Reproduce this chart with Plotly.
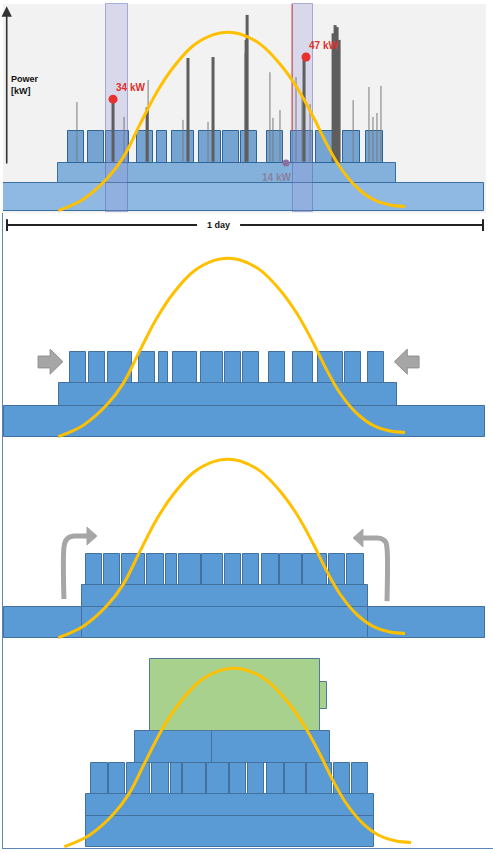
import plotly.graph_objects as go
from plotly.subplots import make_subplots

# ------------------------------------------------------------------ data
# time axis: hours of one day, power axis: kW
solar_h = [2.71, 3.96, 5.12, 5.95, 6.79, 7.62, 8.45, 9.45, 10.45, 11.11, 11.78,
           12.77, 13.77, 14.61, 15.44, 16.10, 16.77, 17.60, 18.43, 19.26, 20.01]
solar_kw = [0.1, 3.6, 9.7, 16.3, 26.4, 36.1, 43.7, 50.3, 53.6, 54.3, 53.8,
            50.8, 44.7, 37.6, 28.5, 20.4, 13.3, 7.2, 3.5, 1.8, 1.4]
solar_shift_p4 = 0.3

# panel 1: measured day
p1_base = dict(start=[-0.05], end=[23.95], lo=0.0, hi=8.5)
p1_mid = dict(start=[2.69], end=[19.56], lo=8.5, hi=14.6)
p1_top = dict(start=[3.21, 4.21, 5.09, 6.62, 7.63, 8.38, 9.73, 10.93, 11.81, 13.11, 14.34, 15.57, 16.93, 18.08],
              end=[4.01, 5.01, 6.25, 7.45, 8.13, 9.50, 10.84, 11.74, 12.62, 13.92, 15.40, 16.78, 17.75, 18.90],
              lo=14.6, hi=24.3)
spike_base = 15.0
thin_spike_h = [3.64, 5.99, 7.19, 8.93, 10.18, 12.03, 13.27, 13.42, 13.77, 14.57, 14.87, 15.27, 17.42, 18.21, 18.41, 18.61, 18.81]
thin_spike_kw = [33.1, 28.6, 39.8, 27.7, 27.1, 48.0, 42.2, 28.3, 30.7, 40.7, 35.9, 32.5, 33.7, 37.7, 28.6, 29.8, 38.0]
heavy_spike_h = [5.44, 7.14, 9.18, 10.43, 12.08, 12.13, 14.97, 16.42, 16.52, 16.62, 16.72]
heavy_spike_kw = [34.0, 31.5, 46.5, 46.8, 52.0, 59.6, 46.8, 54.0, 56.5, 55.9, 52.0]
band_start = [5.09, 14.42]
band_end = [6.19, 15.42]
band_lo, band_hi = -0.3, 62.9
peak_line_h = 14.37
peak_h = [5.44, 15.07]
peak_kw = [34.0, 46.8]
peak_labels = ["34 kW", "47 kW"]
min_h, min_kw, min_label = 14.07, 14.6, "14 kW"

# panel 2: shifting blocks together
p2_base = dict(start=[0.0], end=[24.0], lo=0.0, hi=9.4)
p2_mid = dict(start=[2.74], end=[19.61], lo=9.4, hi=16.4)
p2_top = dict(start=[3.31, 4.26, 5.21, 6.75, 7.75, 8.45, 9.81, 11.04, 11.94, 13.21, 14.44, 15.69, 17.03, 18.18],
              end=[4.11, 5.06, 6.37, 7.55, 8.20, 9.61, 10.94, 11.84, 12.74, 14.01, 15.43, 16.90, 17.83, 18.98],
              lo=16.4, hi=25.8)

# panel 3: stacking
p3_base = dict(start=[0.0, 18.16], end=[3.89, 24.0], lo=0.0, hi=9.4)
p3_core_low = dict(start=[3.89], end=[18.16], lo=0.0, hi=9.4)
p3_core_mid = dict(start=[3.89], end=[18.16], lo=9.4, hi=16.1)
p3_top = dict(start=[4.11, 4.99, 5.90, 7.15, 8.08, 8.72, 9.88, 11.04, 11.94, 12.86, 13.79, 14.90, 16.22, 17.13],
              end=[4.89, 5.80, 7.05, 7.97, 8.62, 9.85, 10.94, 11.84, 12.74, 13.71, 14.85, 16.12, 17.03, 17.95],
              lo=16.1, hi=25.5)

# panel 4: with storage (battery)
p4_low = dict(start=[4.09], end=[18.45], lo=0.0, hi=9.4)
p4_mid = dict(start=[4.09], end=[18.45], lo=9.4, hi=16.1)
p4_top = dict(start=[4.36, 5.26, 6.14, 7.39, 8.33, 8.93, 10.13, 11.28, 12.18, 13.11, 14.02, 15.12, 16.47, 17.37],
              end=[5.17, 6.05, 7.30, 8.22, 8.87, 10.10, 11.21, 12.08, 12.99, 13.96, 15.05, 16.35, 17.28, 18.18],
              lo=16.1, hi=25.5)
p4_second = dict(start=[6.54, 10.38], end=[10.38, 16.27], lo=25.5, hi=35.3)
p4_battery = dict(start=[7.29], end=[15.77], lo=35.3, hi=57.1)
p4_nub = dict(start=[15.77], end=[16.12], lo=41.9, hi=50.2)

# ------------------------------------------------------------------ layout helpers
W, H = 493, 853
PX_PER_H = 481 / 24.0
PX_PER_KW = 3.29
X0_PX = 4
panels = [(0, 213, 211), (213, 440, 437), (440, 645, 638), (645, 848, 847)]

BLUE = "#5b9bd5"
BLUE_LINE = "#41719c"
GOLD = "#ffc000"
GREY = "#a6a6a6"
FONT = "Liberation Sans, Arial, sans-serif"

fig = make_subplots(rows=4, cols=1)
for i, (top, bot, zero) in enumerate(panels, start=1):
    fig.update_yaxes(domain=[1 - bot / H, 1 - top / H],
                     range=[(zero - bot) / PX_PER_KW, (zero - top) / PX_PER_KW],
                     showgrid=False, zeroline=False, showticklabels=False, ticks="",
                     showline=(i > 1), linecolor="#5b87b6", linewidth=1, fixedrange=True,
                     row=i, col=1)
    fig.update_xaxes(domain=[3 / W, 1],
                     range=[(3 - X0_PX) / PX_PER_H, (W - X0_PX) / PX_PER_H],
                     showgrid=False, zeroline=False, showticklabels=False, ticks="",
                     showline=(i == 4), linecolor="#5b87b6", linewidth=1, fixedrange=True,
                     row=i, col=1)


def blocks(spec, row, fill=BLUE, line=BLUE_LINE, lw=1):
    s, e = spec["start"], spec["end"]
    fig.add_trace(go.Bar(
        x=[(a + b) / 2 for a, b in zip(s, e)],
        width=[b - a for a, b in zip(s, e)],
        y=[spec["hi"] - spec["lo"]] * len(s),
        base=[spec["lo"]] * len(s),
        marker=dict(color=fill, line=dict(color=line, width=lw)),
        hoverinfo="skip", showlegend=False), row=row, col=1)


def solar(row, shift=0.0):
    fig.add_trace(go.Scatter(x=[h + shift for h in solar_h], y=solar_kw, mode="lines",
                             line=dict(color=GOLD, width=3, shape="spline", smoothing=1.0),
                             hoverinfo="skip", showlegend=False), row=row, col=1)


def seg_xy(xs, lo, his):
    X, Y = [], []
    for x, t in zip(xs, his):
        X += [x, x, None]
        Y += [lo, t, None]
    return X, Y


# ------------------------------------------------------------------ panel 1
fig.add_shape(type="rect", xref="x", yref="y", x0=-0.3, x1=24.05, y0=-1, y1=62.9,
              fillcolor="#f2f2f2", line=dict(width=0), layer="below")
X, Y = seg_xy(thin_spike_h, spike_base, thin_spike_kw)
fig.add_trace(go.Scatter(x=X, y=Y, mode="lines", line=dict(color="#7a7a7a", width=1),
                         hoverinfo="skip", showlegend=False), row=1, col=1)
X, Y = seg_xy(heavy_spike_h, spike_base, heavy_spike_kw)
fig.add_trace(go.Scatter(x=X, y=Y, mode="lines", line=dict(color="#5e5e5e", width=3),
                         hoverinfo="skip", showlegend=False), row=1, col=1)
blocks(p1_base, 1, fill="rgba(110,165,220,0.75)", line="#3b6f9e")
blocks(p1_mid, 1, fill="rgba(95,155,212,0.75)", line="#3b6f9e")
blocks(p1_top, 1, fill="rgba(75,138,200,0.75)", line="#2f6496")
blocks(dict(start=band_start, end=band_end, lo=band_lo, hi=band_hi), 1,
       fill="rgba(150,150,215,0.28)", line="rgba(80,95,175,0.45)")
fig.add_trace(go.Scatter(x=[peak_line_h, peak_line_h], y=[p1_top["hi"], band_hi], mode="lines",
                         line=dict(color="#e0403a", width=1), hoverinfo="skip", showlegend=False),
              row=1, col=1)
fig.add_trace(go.Scatter(x=peak_h, y=peak_kw, mode="markers",
                         marker=dict(color="#e8312f", size=9), hoverinfo="skip", showlegend=False),
              row=1, col=1)
fig.add_trace(go.Scatter(x=[min_h], y=[min_kw], mode="markers",
                         marker=dict(color="#8c6f9c", size=7), hoverinfo="skip", showlegend=False),
              row=1, col=1)
solar(1)
for h, k, t in zip(peak_h, peak_kw, peak_labels):
    fig.add_annotation(x=h + 0.05, y=k + 3.5, xref="x", yref="y", text=t, showarrow=False,
                       xanchor="left", font=dict(family=FONT, size=10, color="#e0302c", weight="bold"))
fig.add_annotation(x=min_h - 0.45, y=min_kw - 4.3, xref="x", yref="y", text=min_label, showarrow=False,
                   font=dict(family=FONT, size=10, color="#8a80a2", weight="bold"))
fig.add_annotation(x=0.25, y=38.3, xref="x", yref="y", text="Power<br>[kW]", showarrow=False,
                   xanchor="left", align="left",
                   font=dict(family=FONT, size=9, color="#111111", weight="bold"))
fig.add_annotation(x=0.135, y=62.2, ax=0.135, ay=14.0, xref="x", yref="y", axref="x", ayref="y",
                   text="", showarrow=True, arrowhead=2, arrowsize=1.3, arrowwidth=1.6,
                   arrowcolor="#333333")

# ------------------------------------------------------------------ panel 2
fig.add_trace(go.Scatter(x=[0.15, 9.63, None, 11.78, 23.9, None, 0.15, 0.15, None, 23.9, 23.9],
                         y=[64.4, 64.4, None, 64.4, 64.4, None, 62.6, 66.2, None, 62.6, 66.2],
                         mode="lines", line=dict(color="#222222", width=2),
                         hoverinfo="skip", showlegend=False), row=2, col=1)
fig.add_annotation(x=10.68, y=64.4, xref="x2", yref="y2", text="1 day", showarrow=False,
                   font=dict(family=FONT, size=9, color="#111111", weight="bold"))
blocks(p2_base, 2)
blocks(p2_mid, 2)
blocks(p2_top, 2)
for px, py in [([1.70, 2.30, 2.30, 2.94, 2.30, 2.30, 1.70, 1.70],
                [24.6, 24.6, 26.7, 22.9, 19.1, 21.0, 21.0, 24.6]),
               ([20.71, 20.12, 20.12, 19.48, 20.12, 20.12, 20.71, 20.71],
                [24.6, 24.6, 26.7, 22.9, 19.1, 21.0, 21.0, 24.6])]:
    fig.add_trace(go.Scatter(x=px, y=py, mode="lines", fill="toself", fillcolor=GREY,
                             line=dict(color="#8f8f8f", width=1), hoverinfo="skip", showlegend=False),
                  row=2, col=1)
solar(2)

# ------------------------------------------------------------------ panel 3
blocks(p3_base, 3)
blocks(p3_core_low, 3)
blocks(p3_core_mid, 3)
blocks(p3_top, 3)
for sx, sy, hx, hy in [
        ([2.99, 2.99, 3.07, 3.24, 3.49, 3.79, 4.16], [11.85, 27.4, 29.5, 30.6, 31.0, 31.0, 31.0],
         [4.14, 4.64, 4.14, 4.14], [33.7, 31.0, 28.3, 33.7]),
        ([19.11, 19.11, 19.04, 18.86, 18.61, 18.26, 17.89], [11.2, 27.4, 29.2, 30.1, 30.4, 30.4, 30.4],
         [17.91, 17.42, 17.91, 17.91], [33.1, 30.4, 27.7, 33.1])]:
    fig.add_trace(go.Scatter(x=sx, y=sy, mode="lines", line=dict(color=GREY, width=5, shape="spline"),
                             hoverinfo="skip", showlegend=False), row=3, col=1)
    fig.add_trace(go.Scatter(x=hx, y=hy, mode="lines", fill="toself", fillcolor=GREY,
                             line=dict(color=GREY, width=1), hoverinfo="skip", showlegend=False),
                  row=3, col=1)
solar(3)

# ------------------------------------------------------------------ panel 4
blocks(p4_low, 4)
blocks(p4_mid, 4)
blocks(p4_top, 4)
blocks(p4_second, 4)
blocks(p4_battery, 4, fill="#a9d18e", line="#50799b")
blocks(p4_nub, 4, fill="#a9d18e", line="#50799b")
solar(4, solar_shift_p4)

fig.update_layout(width=W, height=H, margin=dict(l=0, r=0, t=0, b=0),
                  paper_bgcolor="white", plot_bgcolor="white", barmode="overlay",
                  bargap=0, showlegend=False)

fig.write_html("out.html", config={"displayModeBar": False},
               post_script="document.body.style.margin='0';document.body.style.overflow='hidden';")
